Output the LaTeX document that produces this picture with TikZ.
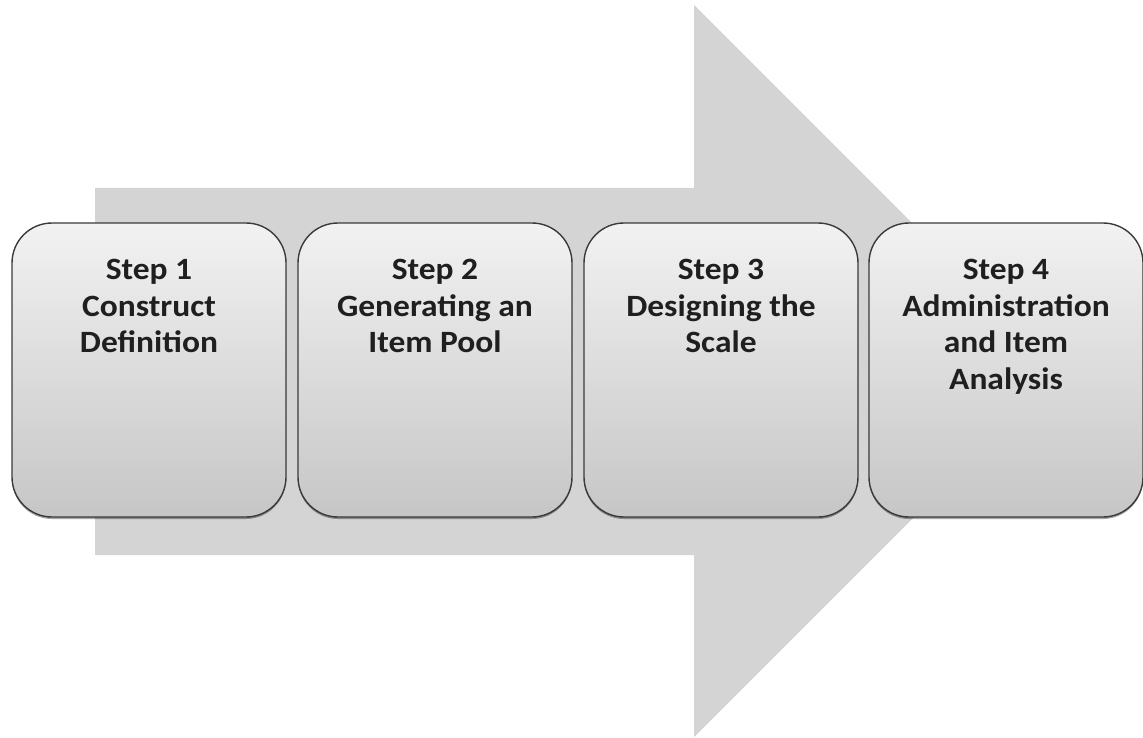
\documentclass[tikz,border=0pt]{standalone}
\usepackage{fontspec}
\setmainfont{Carlito}[FakeStretch=1.08]
\usetikzlibrary{shadows}
\definecolor{arrowgray}{HTML}{D4D4D4}
\definecolor{boxtop}{HTML}{F2F2F2}
\definecolor{boxbottom}{HTML}{C6C6C6}
\definecolor{boxline}{HTML}{3A3A3A}
\begin{document}
\begin{tikzpicture}[x=1pt,y=-1pt,
  stepbox/.style={draw=boxline, line width=1.4pt, rounded corners=40pt,
    top color=boxtop, bottom color=boxbottom,
    minimum width=274pt, minimum height=294pt, inner sep=0pt,
    drop shadow={shadow xshift=0pt, shadow yshift=-2pt, opacity=0.35, fill=black}},
  steptext/.style={anchor=north, inner sep=0pt, align=center, text=black!88,
    font=\fontsize{31}{36.5}\selectfont\bfseries}]
\useasboundingbox (0,0) rectangle (1143,738);
% big process arrow behind the steps
\fill[arrowgray] (95,188) -- (694,188) -- (694,5) -- (1060,371)
  -- (694,737) -- (694,555) -- (95,555) -- cycle;
% step boxes
\node[stepbox] (s1) at (149,370) {};
\node[stepbox] (s2) at (435,370) {};
\node[stepbox] (s3) at (721,370) {};
\node[stepbox] (s4) at (1006,370) {};
% step captions
\node[steptext] (t1) at (149,259) {Step 1\\Construct\\Definition};
\node[steptext] (t2) at (435,259) {Step 2\\Generating an\\Item Pool};
\node[steptext] (t3) at (721,259) {Step 3\\Designing the\\Scale};
\node[steptext] (t4) at (1006,259) {Step 4\\Administration\\and Item\\Analysis};
\end{tikzpicture}
\end{document}
